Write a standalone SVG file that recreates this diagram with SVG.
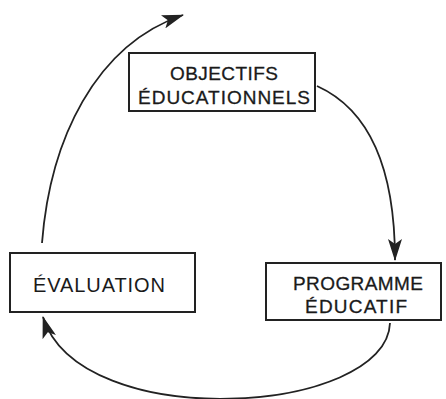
<svg xmlns="http://www.w3.org/2000/svg" width="446" height="399" viewBox="0 0 446 399">
  <defs>
    <marker id="arrow" viewBox="0 0 22 14" refX="21" refY="7" markerWidth="22" markerHeight="14" markerUnits="userSpaceOnUse" orient="auto">
      <path d="M0,0 L22,7 L0,14 L5,7 Z" fill="#222"/>
    </marker>
    <style>
      .box { fill: #fff; stroke: #222; stroke-width: 2; }
      .lbl { font-family: "Liberation Sans", Arial, sans-serif; font-size: 19px; fill: #1a1a1a; stroke: #1a1a1a; stroke-width: 0.3; }
      .thin { stroke: none; font-size: 20px; }
      .edge { fill: none; stroke: #222; stroke-width: 1.8; marker-end: url(#arrow); }
    </style>
  </defs>
  <rect width="446" height="399" fill="#fff"/>

  <g id="connectors">
    <path class="edge" d="M42,243 C50,140 95,45 183,15"/>
    <path class="edge" d="M317,86 C370,110 395,170 395,260"/>
    <path class="edge" d="M390,323 C387,415 80,435 43,317"/>
  </g>

  <g id="objectifs">
    <rect class="box" x="129" y="53" width="186" height="58"/>
    <text class="lbl" x="170" y="80" textLength="108" lengthAdjust="spacing">OBJECTIFS</text>
    <text class="lbl" x="138" y="104" textLength="172" lengthAdjust="spacing">ÉDUCATIONNELS</text>
  </g>

  <g id="evaluation">
    <rect class="box" x="10" y="253" width="185" height="59"/>
    <text class="lbl thin" x="33" y="292" textLength="132" lengthAdjust="spacing">ÉVALUATION</text>
  </g>

  <g id="programme">
    <rect class="box" x="266" y="263" width="175" height="57"/>
    <text class="lbl" x="293" y="290" textLength="130" lengthAdjust="spacing">PROGRAMME</text>
    <text class="lbl" x="305" y="313" textLength="102" lengthAdjust="spacing">ÉDUCATIF</text>
  </g>
</svg>
